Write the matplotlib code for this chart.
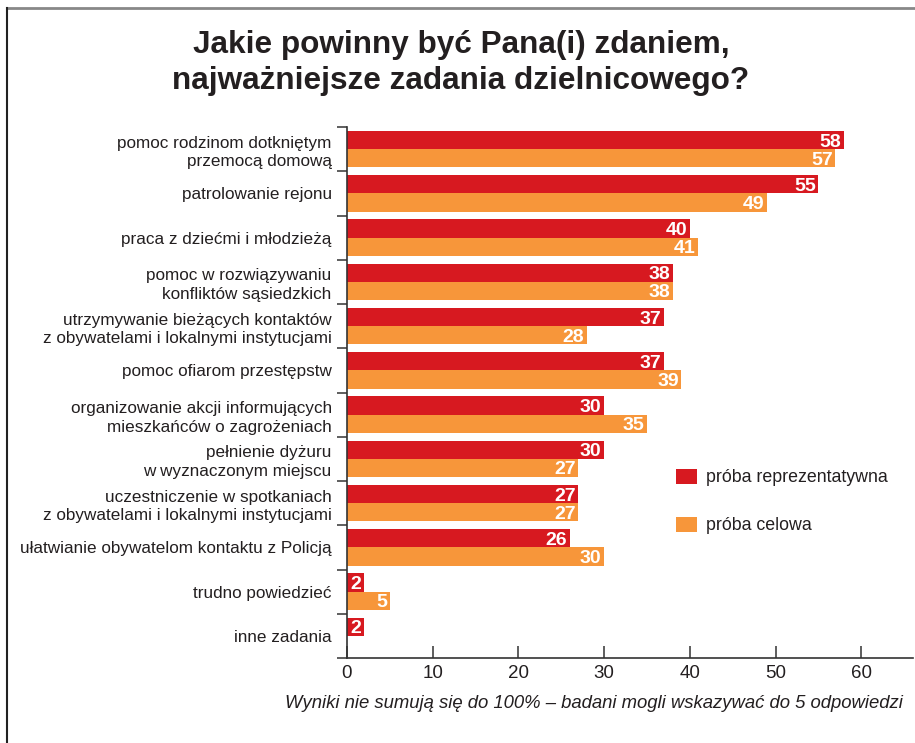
import matplotlib
matplotlib.use("Agg")
import matplotlib.pyplot as plt
from matplotlib.lines import Line2D
from matplotlib.patches import Rectangle

categories = [
    "pomoc rodzinom dotkniętym\nprzemocą domową",
    "patrolowanie rejonu",
    "praca z dziećmi i młodzieżą",
    "pomoc w rozwiązywaniu\nkonfliktów sąsiedzkich",
    "utrzymywanie bieżących kontaktów\nz obywatelami i lokalnymi instytucjami",
    "pomoc ofiarom przestępstw",
    "organizowanie akcji informujących\nmieszkańców o zagrożeniach",
    "pełnienie dyżuru\nw wyznaczonym miejscu",
    "uczestniczenie w spotkaniach\nz obywatelami i lokalnymi instytucjami",
    "ułatwianie obywatelom kontaktu z Policją",
    "trudno powiedzieć",
    "inne zadania",
]
proba_reprezentatywna = [58, 55, 40, 38, 37, 37, 30, 30, 27, 26, 2, 2]
proba_celowa = [57, 49, 41, 38, 28, 39, 35, 27, 27, 30, 5, None]
series_names = ["próba reprezentatywna", "próba celowa"]
xticks = [0, 10, 20, 30, 40, 50, 60]
title = "Jakie powinny być Pana(i) zdaniem,\nnajważniejsze zadania dzielnicowego?"
footnote = "Wyniki nie sumują się do 100% – badani mogli wskazywać do 5 odpowiedzi"

RED = "#d71920"
ORANGE = "#f7963a"
FONT = ["Liberation Sans", "DejaVu Sans"]
plt.rcParams["font.family"] = FONT

fig = plt.figure(figsize=(9.15, 7.43), dpi=100)
ax = fig.add_axes([347/915, 1-658/743, (913-347)/915, (658-127)/743])

n = len(categories)
h = 0.41
for i in range(n):
    r = proba_reprezentatywna[i]
    c = proba_celowa[i]
    if r is not None:
        ax.barh(i + 0.09 + h/2, r, height=h, color=RED, linewidth=0)
        ax.text(r - 0.3, i + 0.09 + h/2, str(r), color="white", fontweight="bold",
                fontsize=14, ha="right", va="center_baseline")
    if c is not None:
        ax.barh(i + 0.5 + h/2, c, height=h, color=ORANGE, linewidth=0)
        ax.text(c - 0.3, i + 0.5 + h/2, str(c), color="white", fontweight="bold",
                fontsize=14, ha="right", va="center_baseline")

ax.set_ylim(n, 0)
ax.set_xlim(0, (913-347)/8.57)

ax.set_yticks(range(n + 1))
ax.set_yticklabels([])
ax.set_yticks([i + 0.5 for i in range(n)], minor=True)
ax.set_yticklabels(categories, minor=True, fontsize=12.3, ha="right",
                   linespacing=1.3, color="#231f20")
ax.tick_params(axis="y", which="major", direction="out", length=7, width=1.1, color="#333333")
ax.tick_params(axis="y", which="minor", length=0, pad=11)

ax.set_xticks(xticks)
ax.set_xticklabels([str(t) for t in xticks], fontsize=13.5, color="#231f20")
ax.tick_params(axis="x", direction="in", length=9, width=1.1, color="#333333", pad=5)

for s in ["top", "right"]:
    ax.spines[s].set_visible(False)
for s in ["left", "bottom"]:
    ax.spines[s].set_color("#333333")
    ax.spines[s].set_linewidth(1.2)

fig.text(461/915, 1-63/743, title, ha="center", va="center", fontsize=22.7,
         fontweight="bold", linespacing=1.3, color="#231f20")
fig.text(903/915, 1-703/743, footnote, ha="right", va="center", fontsize=13.3,
         style="italic", color="#231f20")

# legend
fig.patches.append(Rectangle((676/915, 1-484/743), 21/915, 15/743,
                             transform=fig.transFigure, color=RED, linewidth=0))
fig.patches.append(Rectangle((676/915, 1-532/743), 21/915, 15/743,
                             transform=fig.transFigure, color=ORANGE, linewidth=0))
fig.text(706/915, 1-478/743, series_names[0], ha="left", va="center", fontsize=12.8, color="#231f20")
fig.text(706/915, 1-526/743, series_names[1], ha="left", va="center", fontsize=12.8, color="#231f20")

# frame
fig.add_artist(Line2D([7/915, 1], [1-8/743, 1-8/743], transform=fig.transFigure,
                      color="#888888", linewidth=2))
fig.add_artist(Line2D([7/915, 7/915], [0, 1-8/743], transform=fig.transFigure,
                      color="#222222", linewidth=1.5))

fig.savefig("out.png", dpi=100)
